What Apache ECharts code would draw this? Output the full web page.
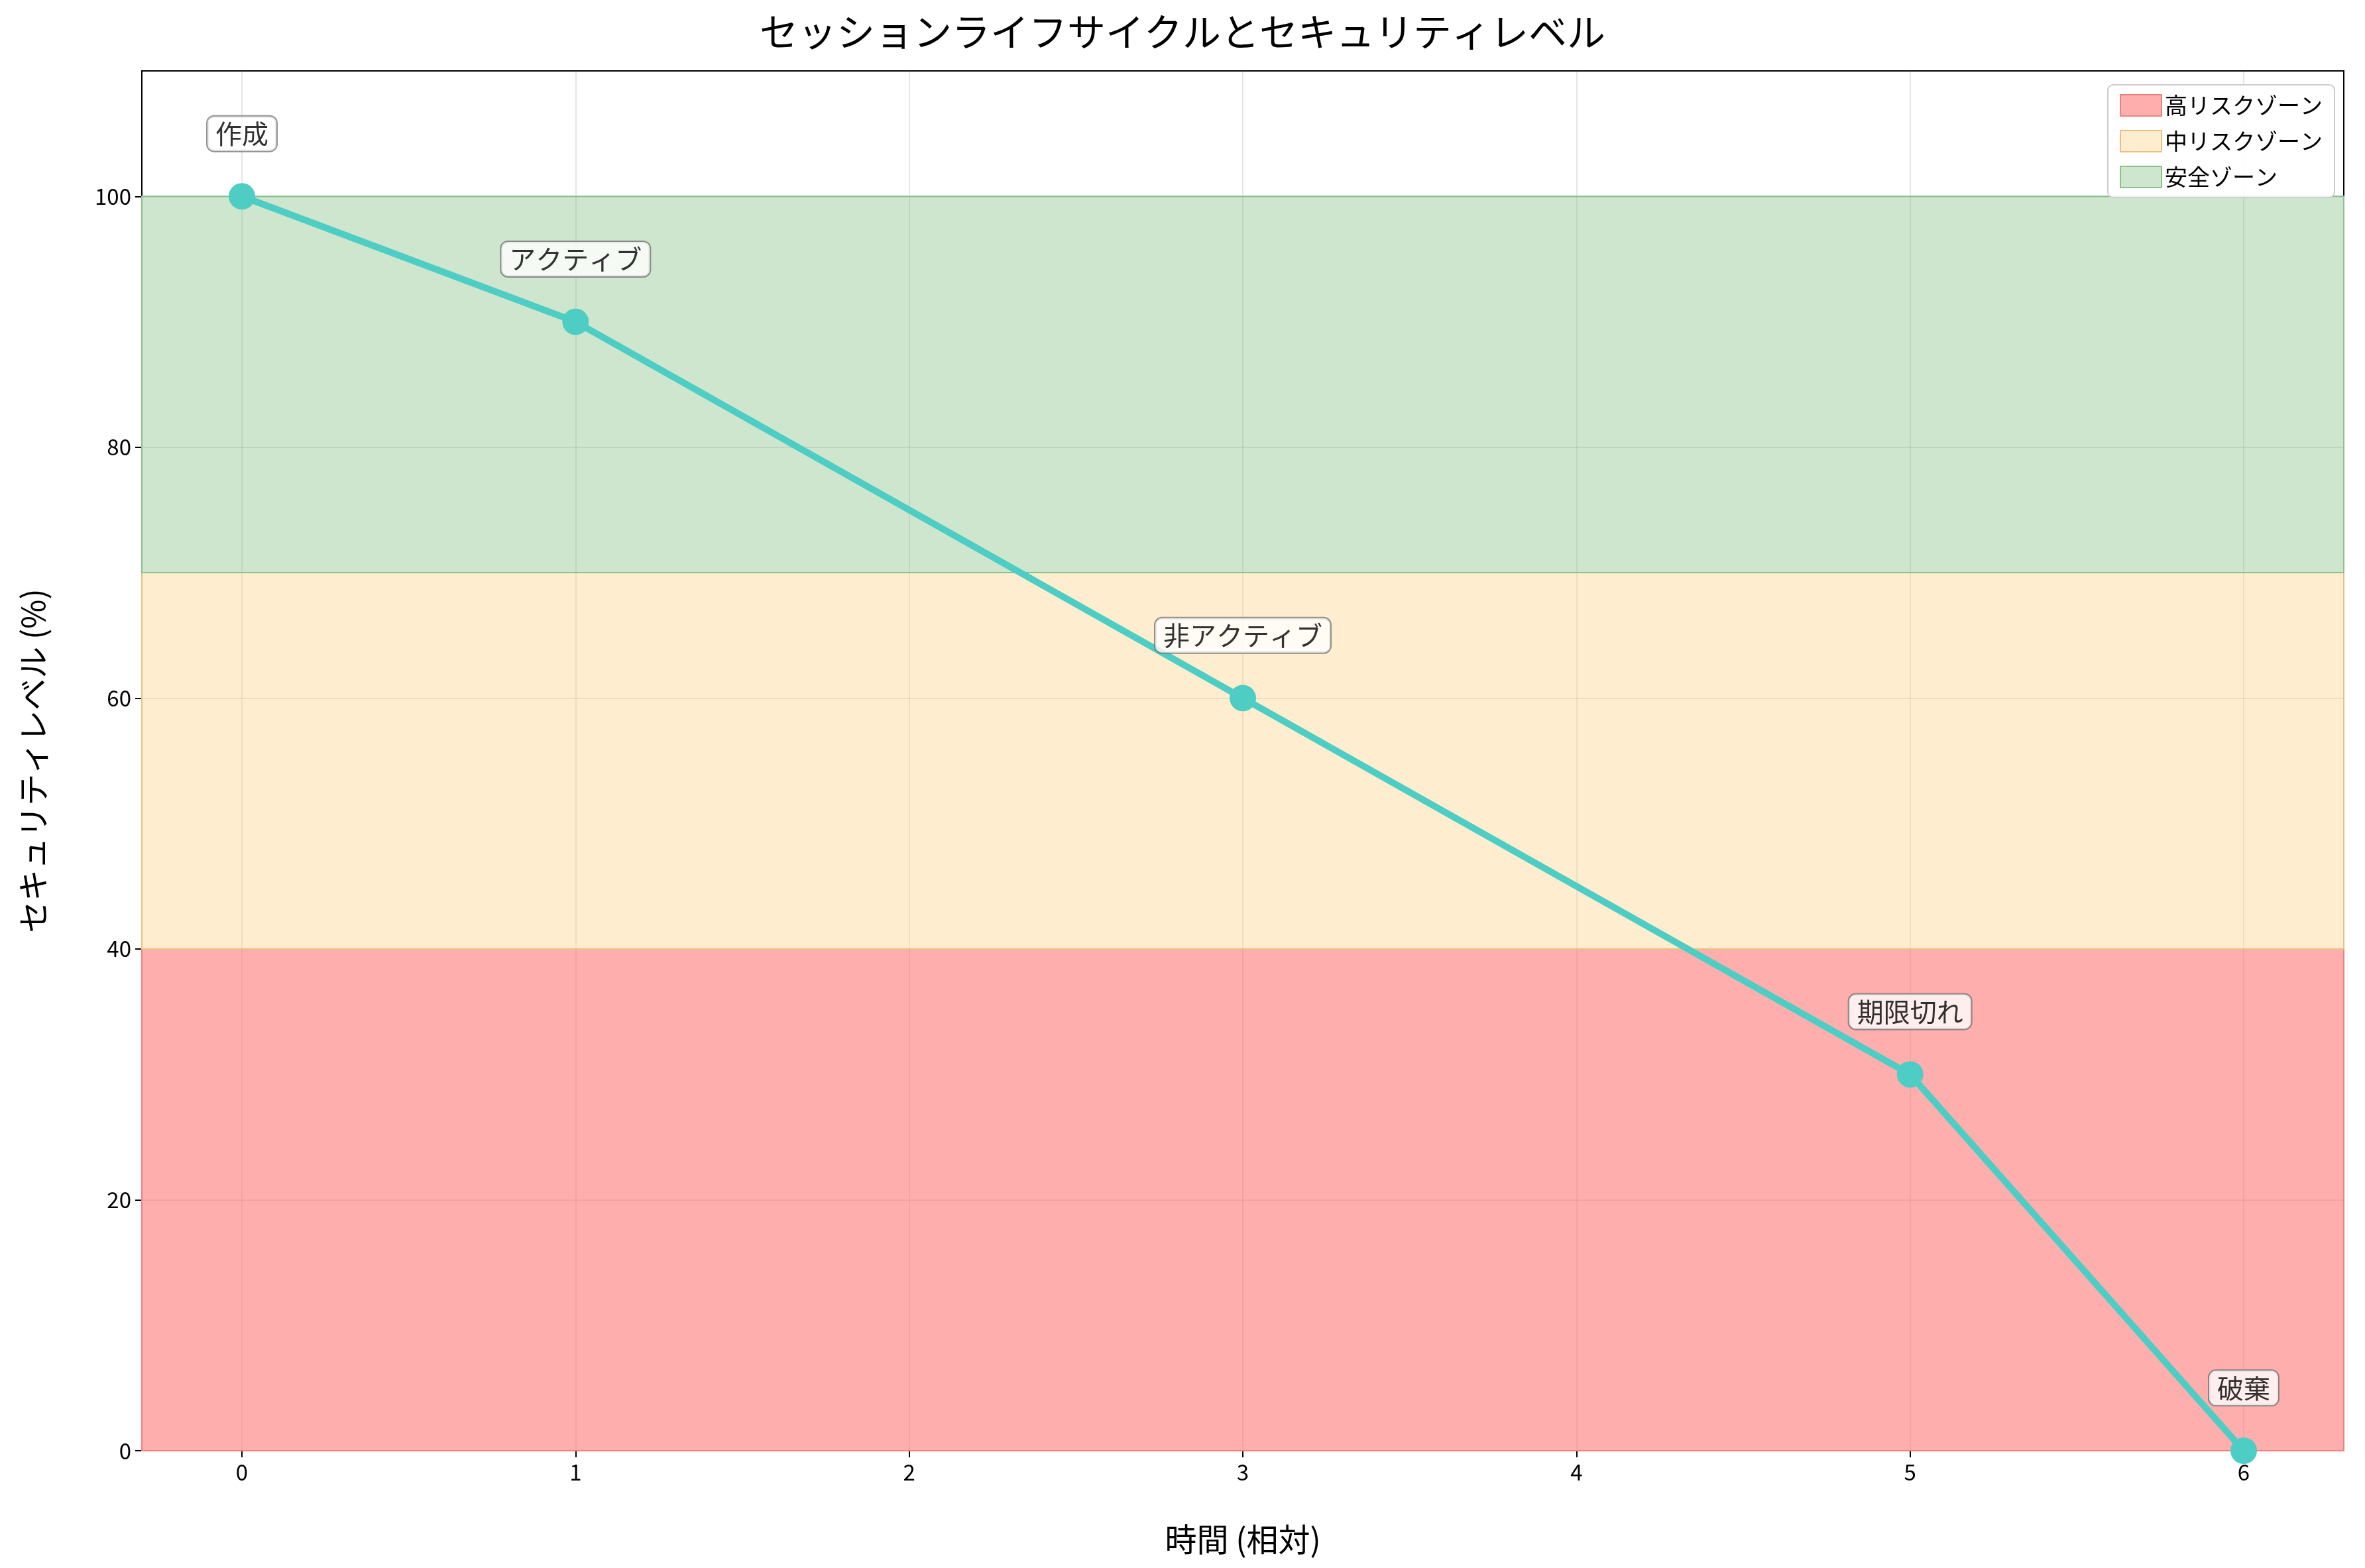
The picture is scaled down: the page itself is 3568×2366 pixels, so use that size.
<!DOCTYPE html>
<html><head><meta charset="utf-8">
<script src="https://cdn.jsdelivr.net/npm/echarts@6/dist/echarts.min.js"></script>
<style>html,body{margin:0;padding:0;background:#fff}#c{width:3568px;height:2366px}</style>
</head><body><div id="c"></div>
<script>
const times=[0,1,3,5,6];
const levels=[100,90,60,30,0];
const stages=['作成','アクティブ','非アクティブ','期限切れ','破棄'];
const xTicks=[0,1,2,3,4,5,6];
const yTicks=[0,20,40,60,80,100];
const zones=[
 {name:'高リスクゾーン',from:0,to:40,color:'rgba(255,107,107,0.55)',edge:'#f08080'},
 {name:'中リスクゾーン',from:40,to:70,color:'rgba(255,212,140,0.42)',edge:'#e8c080'},
 {name:'安全ゾーン',from:70,to:100,color:'rgba(120,185,120,0.36)',edge:'#8cc08c'}
];
const F='"Noto Sans CJK JP","DejaVu Sans",sans-serif';
const chart=echarts.init(document.getElementById('c'));
const zoneSeries=zones.map(z=>({
 name:z.name,type:'line',data:[],itemStyle:{color:z.color,borderColor:z.edge,borderWidth:2},
 markArea:{silent:true,itemStyle:{color:z.color,borderColor:z.edge,borderWidth:2},
  data:[[{xAxis:-0.3,yAxis:z.from},{xAxis:6.3,yAxis:z.to}]]}
}));
chart.setOption({
 animation:false,
 title:{text:'セッションライフサイクルとセキュリティレベル',left:'center',top:14,
  textStyle:{fontFamily:F,fontSize:58,fontWeight:'normal',color:'#000'}},
 grid:{left:214,right:32,top:107,bottom:177,show:true,borderColor:'#000',borderWidth:2,backgroundColor:'transparent'},
 legend:{orient:'vertical',right:46,top:128,itemWidth:62,itemHeight:32,itemGap:20,
  icon:'rect',backgroundColor:'rgba(255,255,255,0.85)',borderColor:'#ccc',borderWidth:2,borderRadius:8,padding:[14,18],
  textStyle:{fontFamily:F,fontSize:34,color:'#000'},data:zones.map(z=>z.name)},
 xAxis:{type:'value',min:-0.3,max:6.3,name:'時間 (相対)',nameLocation:'middle',nameGap:110,
  nameTextStyle:{fontFamily:F,fontSize:48,color:'#000'},
  axisLine:{onZero:false,lineStyle:{color:'#000',width:2}},
  axisTick:{customValues:xTicks,length:10,lineStyle:{color:'#000',width:2}},
  axisLabel:{customValues:xTicks,fontFamily:F,fontSize:33,color:'#000',margin:16},
  splitLine:{show:true,lineStyle:{color:'rgba(0,0,0,0.1)',width:2}}},
 yAxis:{type:'value',min:0,max:110,name:'セキュリティレベル (%)',nameLocation:'middle',nameGap:140,
  nameTextStyle:{fontFamily:F,fontSize:48,color:'#000'},
  axisLine:{show:true,onZero:false,lineStyle:{color:'#000',width:2}},
  axisTick:{show:true,customValues:yTicks,length:10,lineStyle:{color:'#000',width:2}},
  axisLabel:{customValues:yTicks,fontFamily:F,fontSize:33,color:'#000',margin:16},
  splitLine:{show:true,lineStyle:{color:'rgba(0,0,0,0.1)',width:2}}},
 series:[...zoneSeries,
  {type:'line',name:'level',data:times.map((t,i)=>[t,levels[i]]),symbol:'circle',symbolSize:40,
   lineStyle:{color:'#4ecdc4',width:10},itemStyle:{color:'#4ecdc4'},z:5},
  {type:'scatter',name:'ann',data:times.map((t,i)=>({value:[t,levels[i]+5],name:stages[i]})),
   symbolSize:1,itemStyle:{color:'transparent'},z:6,
   label:{show:true,position:'inside',formatter:p=>p.name,fontFamily:F,fontSize:40,color:'#000',
    backgroundColor:'#fff',borderColor:'#777',borderWidth:2,borderRadius:10,padding:[6,12]}}
 ]
});
</script></body></html>
